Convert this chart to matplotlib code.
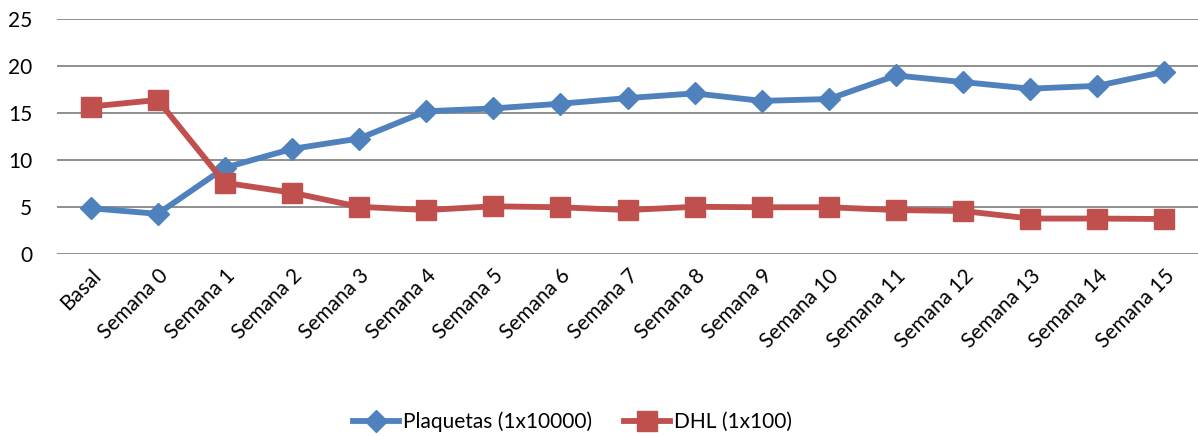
import numpy as np
from matplotlib import pyplot as plt

plt.rcParams['font.family'] = ['Lato', 'DejaVu Sans']

# weekly follow-up, Basal then Semana 0..15
categorias = ['Basal'] + ['Semana %d' % i for i in range(16)]
plaquetas = [4.9, 4.3, 9.2, 11.2, 12.3, 15.2, 15.5, 16.0, 16.6, 17.1,
             16.3, 16.5, 19.0, 18.3, 17.6, 17.9, 19.4]
dhl = [15.7, 16.4, 7.6, 6.55, 5.05, 4.7, 5.1, 5.0, 4.7, 5.05,
       5.0, 5.0, 4.7, 4.6, 3.8, 3.8, 3.75]

azul = '#4F81BD'
rojo = '#C0504D'

fig = plt.figure(figsize=(11.98, 4.36), dpi=100)
ax = fig.add_axes([0.0476, 0.4167, 0.9524, 0.5397])

x = np.arange(len(categorias))
ax.plot(x, plaquetas, color=azul, lw=4.2, marker='D', ms=11.5,
        label='Plaquetas (1x10000)')
ax.plot(x, dhl, color=rojo, lw=4.2, marker='s', ms=14,
        label='DHL (1x100)')

ax.set_xlim(-0.5, len(categorias) - 0.5)
ax.set_ylim(0, 25)
ax.set_yticks(range(0, 26, 5))
ax.yaxis.grid(True, color='#868686', lw=1.3)
ax.set_axisbelow(True)
for s in ['top', 'right', 'left', 'bottom']:
    ax.spines[s].set_visible(False)

ax.set_xticks(x)
ax.set_xticklabels(categorias, rotation=45, ha='right', rotation_mode='anchor')
ax.tick_params(axis='both', length=0, labelsize=15)
ax.tick_params(axis='y', pad=18)
ax.tick_params(axis='x', pad=8)

fig.legend(loc='center', bbox_to_anchor=(0.478, 0.032), ncol=2, frameon=False,
           fontsize=15, handlelength=2.2, handletextpad=0.2, columnspacing=1.5)

fig.savefig('out.png', dpi=100)
